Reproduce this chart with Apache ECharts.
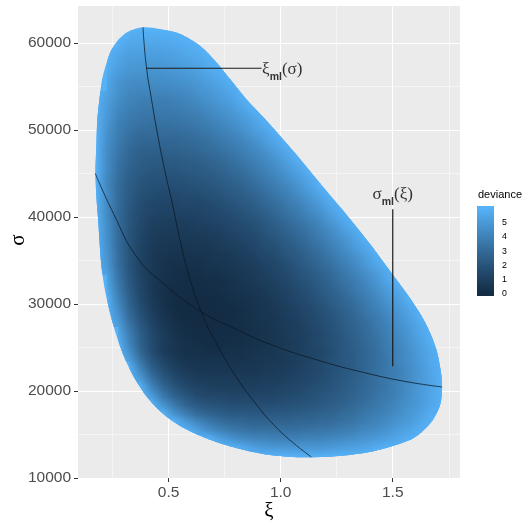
<!DOCTYPE html>
<html>
<head>
<meta charset="utf-8">
<script src="https://cdn.jsdelivr.net/npm/echarts@6/dist/echarts.min.js"></script>
<style>
html, body { margin: 0; padding: 0; background: #ffffff; }
#chart { width: 524px; height: 522px; }
</style>
</head>
<body>
<div id="chart"></div>
<script>
// Deviance surface over (xi, sigma): one row per sigma level, cells every 0.05 in xi
const XI_STEP = 0.05;
const SIGMA_STEP = 1000;
const XI_ORIGIN = 0.175;

const sigmaRows = [61500, 60500, 59500, 58500, 57500, 56500, 55500, 54500, 53500, 52500,
  51500, 50500, 49500, 48500, 47500, 46500, 45500, 44500, 43500, 42500,
  41500, 40500, 39500, 38500, 37500, 36500, 35500, 34500, 33500, 32500,
  31500, 30500, 29500, 28500, 27500, 26500, 25500, 24500, 23500, 22500,
  21500, 20500, 19500, 18500, 17500, 16500, 15500, 14500, 13500, 12500];

const rowStartXi = [0.325, 0.275, 0.225, 0.225, 0.225, 0.225, 0.225, 0.175, 0.175, 0.175,
  0.175, 0.175, 0.175, 0.175, 0.175, 0.175, 0.175, 0.175, 0.175, 0.175,
  0.175, 0.175, 0.175, 0.175, 0.175, 0.175, 0.175, 0.175, 0.225, 0.225,
  0.225, 0.225, 0.225, 0.225, 0.275, 0.275, 0.275, 0.275, 0.325, 0.325,
  0.325, 0.375, 0.375, 0.425, 0.475, 0.475, 0.575, 0.625, 0.725, 0.875];

const devRows = [
  [6.0, 5.9, 5.9, 6.0, 6.0, 6.0],
  [6.0, 5.7, 5.7, 5.7, 5.7, 5.8, 6.0, 6.0],
  [6.0, 5.8, 5.5, 5.4, 5.4, 5.5, 5.6, 5.7, 5.9, 6.0],
  [6.0, 5.5, 5.2, 5.2, 5.2, 5.2, 5.3, 5.5, 5.7, 5.9, 6.0],
  [5.9, 5.3, 5.0, 4.9, 4.9, 5.0, 5.1, 5.2, 5.4, 5.7, 6.0],
  [5.7, 5.1, 4.8, 4.7, 4.7, 4.7, 4.8, 5.0, 5.2, 5.5, 5.8, 6.0],
  [5.5, 4.8, 4.5, 4.4, 4.4, 4.5, 4.6, 4.7, 4.9, 5.2, 5.5, 5.9, 6.0],
  [6.0, 5.4, 4.7, 4.3, 4.2, 4.2, 4.2, 4.3, 4.4, 4.7, 4.9, 5.2, 5.6, 6.0],
  [6.0, 5.2, 4.5, 4.1, 3.9, 3.9, 3.9, 4.0, 4.2, 4.4, 4.7, 5.0, 5.3, 5.8, 6.0],
  [6.0, 5.1, 4.3, 3.9, 3.7, 3.7, 3.7, 3.8, 3.9, 4.1, 4.4, 4.7, 5.0, 5.4, 5.9, 6.0],
  [6.0, 5.0, 4.1, 3.7, 3.5, 3.4, 3.5, 3.5, 3.7, 3.8, 4.1, 4.4, 4.7, 5.1, 5.5, 6.0],
  [6.0, 4.8, 3.9, 3.5, 3.3, 3.2, 3.2, 3.3, 3.4, 3.6, 3.8, 4.1, 4.4, 4.8, 5.2, 5.7, 6.0],
  [6.0, 4.7, 3.8, 3.3, 3.0, 3.0, 3.0, 3.0, 3.1, 3.3, 3.5, 3.8, 4.1, 4.4, 4.9, 5.3, 5.8, 6.0],
  [6.0, 4.6, 3.7, 3.1, 2.8, 2.8, 2.8, 2.8, 2.9, 3.0, 3.2, 3.5, 3.8, 4.1, 4.5, 5.0, 5.5, 6.0],
  [6.0, 4.5, 3.5, 2.9, 2.6, 2.5, 2.5, 2.6, 2.7, 2.8, 3.0, 3.2, 3.5, 3.8, 4.2, 4.6, 5.1, 5.6, 6.0],
  [6.0, 4.4, 3.4, 2.8, 2.4, 2.3, 2.3, 2.3, 2.4, 2.5, 2.7, 2.9, 3.2, 3.5, 3.9, 4.3, 4.7, 5.3, 5.8, 6.0],
  [6.0, 4.4, 3.3, 2.6, 2.3, 2.1, 2.1, 2.1, 2.2, 2.3, 2.5, 2.7, 2.9, 3.2, 3.6, 4.0, 4.4, 4.9, 5.4, 6.0],
  [6.0, 4.3, 3.2, 2.5, 2.1, 1.9, 1.9, 1.9, 2.0, 2.1, 2.2, 2.4, 2.7, 2.9, 3.3, 3.7, 4.1, 4.6, 5.1, 5.6, 6.0],
  [6.0, 4.3, 3.1, 2.4, 2.0, 1.8, 1.7, 1.7, 1.8, 1.9, 2.0, 2.2, 2.4, 2.7, 3.0, 3.4, 3.8, 4.2, 4.7, 5.3, 5.9, 6.0],
  [6.0, 4.4, 3.1, 2.3, 1.8, 1.6, 1.5, 1.5, 1.6, 1.6, 1.8, 1.9, 2.2, 2.4, 2.7, 3.1, 3.5, 3.9, 4.4, 4.9, 5.5, 6.0],
  [6.0, 4.4, 3.1, 2.2, 1.7, 1.4, 1.3, 1.3, 1.4, 1.4, 1.5, 1.7, 1.9, 2.2, 2.4, 2.8, 3.1, 3.6, 4.0, 4.5, 5.1, 5.7, 6.0],
  [6.0, 4.4, 3.0, 2.1, 1.6, 1.3, 1.2, 1.2, 1.2, 1.2, 1.4, 1.5, 1.7, 1.9, 2.2, 2.5, 2.9, 3.3, 3.7, 4.2, 4.7, 5.3, 5.9, 6.0],
  [6.0, 4.5, 3.0, 2.1, 1.5, 1.1, 1.0, 1.0, 1.0, 1.1, 1.2, 1.3, 1.5, 1.7, 1.9, 2.2, 2.6, 3.0, 3.4, 3.8, 4.3, 4.9, 5.5, 6.0],
  [6.0, 4.6, 3.1, 2.0, 1.4, 1.0, 0.9, 0.8, 0.8, 0.9, 1.0, 1.1, 1.3, 1.5, 1.7, 2.0, 2.3, 2.7, 3.1, 3.5, 4.0, 4.5, 5.1, 5.7, 6.0],
  [6.0, 4.6, 3.1, 2.0, 1.3, 0.9, 0.7, 0.7, 0.7, 0.7, 0.8, 0.9, 1.1, 1.3, 1.5, 1.8, 2.1, 2.4, 2.8, 3.2, 3.7, 4.2, 4.7, 5.3, 5.9],
  [6.0, 4.7, 3.1, 2.0, 1.2, 0.8, 0.6, 0.5, 0.5, 0.6, 0.6, 0.8, 0.9, 1.1, 1.3, 1.6, 1.8, 2.2, 2.5, 3.0, 3.4, 3.9, 4.4, 5.0, 5.6, 6.0],
  [6.0, 4.8, 3.2, 2.0, 1.2, 0.7, 0.5, 0.4, 0.4, 0.4, 0.5, 0.6, 0.7, 0.9, 1.1, 1.4, 1.6, 2.0, 2.3, 2.7, 3.1, 3.6, 4.1, 4.6, 5.2, 5.8, 6.0],
  [6.0, 4.9, 3.2, 2.0, 1.2, 0.7, 0.4, 0.3, 0.3, 0.3, 0.4, 0.5, 0.6, 0.8, 0.9, 1.2, 1.4, 1.7, 2.1, 2.5, 2.9, 3.3, 3.8, 4.3, 4.9, 5.5, 6.0],
  [5.2, 3.4, 2.1, 1.2, 0.7, 0.4, 0.2, 0.2, 0.2, 0.3, 0.3, 0.5, 0.6, 0.8, 1.0, 1.3, 1.5, 1.9, 2.2, 2.6, 3.0, 3.5, 4.0, 4.5, 5.1, 5.7, 6.0],
  [5.4, 3.6, 2.2, 1.3, 0.7, 0.3, 0.2, 0.1, 0.1, 0.2, 0.2, 0.3, 0.5, 0.7, 0.9, 1.1, 1.4, 1.7, 2.0, 2.4, 2.8, 3.3, 3.7, 4.2, 4.8, 5.4, 6.0],
  [5.7, 3.8, 2.4, 1.4, 0.7, 0.3, 0.1, 0.1, 0.1, 0.1, 0.2, 0.3, 0.4, 0.5, 0.7, 1.0, 1.2, 1.5, 1.8, 2.2, 2.6, 3.0, 3.5, 4.0, 4.5, 5.1, 5.6, 6.0],
  [6.0, 4.1, 2.6, 1.5, 0.8, 0.3, 0.1, 0.0, 0.0, 0.0, 0.1, 0.2, 0.3, 0.4, 0.6, 0.8, 1.1, 1.4, 1.7, 2.0, 2.4, 2.8, 3.2, 3.7, 4.2, 4.8, 5.3, 5.9],
  [6.0, 4.4, 2.8, 1.7, 0.9, 0.4, 0.1, 0.0, 0.0, 0.0, 0.1, 0.1, 0.2, 0.4, 0.5, 0.7, 1.0, 1.2, 1.5, 1.8, 2.2, 2.6, 3.0, 3.5, 4.0, 4.5, 5.0, 5.6, 6.0],
  [6.0, 4.8, 3.1, 1.9, 1.1, 0.5, 0.2, 0.0, 0.0, 0.0, 0.0, 0.1, 0.2, 0.3, 0.5, 0.6, 0.9, 1.1, 1.4, 1.7, 2.0, 2.4, 2.8, 3.3, 3.7, 4.2, 4.8, 5.3, 5.9],
  [5.2, 3.5, 2.2, 1.3, 0.7, 0.3, 0.1, 0.0, 0.0, 0.1, 0.1, 0.2, 0.3, 0.4, 0.6, 0.8, 1.0, 1.3, 1.6, 1.9, 2.3, 2.7, 3.1, 3.6, 4.0, 4.6, 5.1, 5.7, 6.0],
  [5.6, 3.9, 2.5, 1.5, 0.9, 0.4, 0.2, 0.1, 0.1, 0.1, 0.1, 0.2, 0.3, 0.4, 0.6, 0.8, 1.0, 1.2, 1.5, 1.8, 2.2, 2.6, 3.0, 3.4, 3.9, 4.4, 4.9, 5.5, 6.0],
  [6.0, 4.1, 2.6, 1.6, 0.9, 0.5, 0.3, 0.2, 0.1, 0.1, 0.2, 0.2, 0.3, 0.4, 0.6, 0.7, 0.9, 1.2, 1.5, 1.8, 2.1, 2.5, 2.9, 3.3, 3.8, 4.2, 4.8, 5.3, 5.9],
  [6.0, 4.6, 2.8, 1.7, 0.9, 0.5, 0.3, 0.3, 0.2, 0.2, 0.3, 0.3, 0.4, 0.5, 0.6, 0.8, 1.0, 1.2, 1.4, 1.7, 2.1, 2.4, 2.8, 3.2, 3.7, 4.1, 4.6, 5.2, 5.7, 6.0],
  [5.2, 3.4, 2.1, 1.3, 0.8, 0.5, 0.4, 0.4, 0.4, 0.4, 0.4, 0.5, 0.6, 0.7, 0.8, 1.0, 1.2, 1.5, 1.8, 2.1, 2.4, 2.8, 3.2, 3.6, 4.1, 4.6, 5.1, 5.7, 6.0],
  [6.0, 4.1, 2.6, 1.7, 1.1, 0.8, 0.6, 0.6, 0.6, 0.6, 0.6, 0.6, 0.7, 0.8, 0.9, 1.1, 1.3, 1.5, 1.8, 2.1, 2.4, 2.8, 3.2, 3.6, 4.0, 4.5, 5.0, 5.6, 6.0],
  [6.0, 4.9, 3.3, 2.2, 1.5, 1.1, 0.9, 0.8, 0.8, 0.8, 0.8, 0.8, 0.9, 0.9, 1.1, 1.2, 1.4, 1.6, 1.9, 2.2, 2.5, 2.8, 3.2, 3.6, 4.0, 4.5, 5.0, 5.5, 6.0],
  [5.9, 4.1, 2.8, 2.0, 1.5, 1.2, 1.1, 1.0, 1.0, 1.0, 1.0, 1.1, 1.1, 1.3, 1.4, 1.6, 1.8, 2.0, 2.3, 2.6, 2.9, 3.2, 3.6, 4.1, 4.5, 5.0, 5.5, 6.0],
  [6.0, 5.0, 3.6, 2.6, 2.0, 1.6, 1.4, 1.4, 1.3, 1.3, 1.3, 1.3, 1.4, 1.5, 1.6, 1.8, 2.0, 2.2, 2.4, 2.7, 3.0, 3.4, 3.7, 4.1, 4.6, 5.1, 5.6, 6.0],
  [6.0, 4.6, 3.5, 2.7, 2.2, 1.9, 1.8, 1.7, 1.7, 1.7, 1.7, 1.7, 1.8, 1.9, 2.0, 2.2, 2.4, 2.6, 2.9, 3.2, 3.5, 3.9, 4.3, 4.7, 5.1, 5.6, 6.0],
  [5.9, 4.6, 3.7, 3.0, 2.6, 2.4, 2.2, 2.2, 2.1, 2.1, 2.2, 2.2, 2.3, 2.4, 2.6, 2.7, 3.0, 3.2, 3.5, 3.8, 4.1, 4.5, 4.9, 5.3, 5.8, 6.0],
  [6.0, 6.0, 5.0, 4.2, 3.6, 3.2, 2.9, 2.8, 2.7, 2.7, 2.7, 2.7, 2.8, 2.8, 3.0, 3.1, 3.3, 3.5, 3.8, 4.1, 4.4, 4.8, 5.1, 5.6, 6.0],
  [6.0, 5.3, 4.6, 4.1, 3.7, 3.5, 3.3, 3.3, 3.3, 3.3, 3.3, 3.4, 3.5, 3.6, 3.8, 4.0, 4.3, 4.5, 4.8, 5.2, 5.5, 5.9, 6.0],
  [6.0, 6.0, 5.3, 4.8, 4.4, 4.2, 4.1, 4.0, 4.0, 4.0, 4.1, 4.1, 4.3, 4.4, 4.6, 4.8, 5.0, 5.3, 5.6, 5.9, 6.0],
  [6.0, 6.0, 5.7, 5.3, 5.1, 4.9, 4.9, 4.9, 4.9, 4.9, 5.0, 5.2, 5.3, 5.5, 5.8, 6.0, 6.0],
  [6.0, 6.0, 6.0, 6.0, 5.9, 5.9, 5.9, 6.0, 6.0, 6.0, 6.0]
];

// Outline of the region where the deviance is below its cut-off
const boundaryXi = [0.386, 0.462, 0.551, 0.641, 0.712, 0.774, 0.850, 0.926, 1.064, 1.189,
  1.314, 1.403, 1.492, 1.568, 1.644, 1.693, 1.715, 1.720, 1.711, 1.671,
  1.599, 1.510, 1.390, 1.243, 1.091, 0.944, 0.810, 0.691, 0.572, 0.483,
  0.409, 0.349, 0.305, 0.267, 0.238, 0.215, 0.200, 0.193, 0.186, 0.178,
  0.173, 0.178, 0.182, 0.193, 0.203, 0.223, 0.245, 0.275, 0.319];
const boundarySigma = [61805, 61609, 61034, 59655, 57814, 55859, 53443, 51373, 47347, 43436,
  39641, 36765, 33660, 31014, 27909, 24918, 22158, 20317, 18362, 16407,
  14681, 13761, 12956, 12496, 12381, 12668, 13382, 14336, 15682, 17212,
  19132, 21433, 23733, 26413, 29093, 31785, 34465, 36770, 39650, 42320,
  45390, 48071, 51142, 53822, 55740, 57665, 59195, 60345, 61299];

// Profile curves: xi maximising the likelihood for each sigma, and vice versa
const xiMlSigma = [61805, 57500, 53500, 49500, 45500, 41500, 37500, 33500, 29093, 25500, 21500, 18500, 16500, 14500, 12415];
const xiMlXi = [0.386, 0.400, 0.424, 0.451, 0.482, 0.517, 0.550, 0.588, 0.646, 0.713, 0.805, 0.890, 0.955, 1.035, 1.137];
const sigmaMlXi = [0.173, 0.254, 0.358, 0.477, 0.646, 0.795, 0.944, 1.167, 1.390, 1.568, 1.720];
const sigmaMlSigma = [45013, 40411, 35420, 32360, 29093, 27184, 25459, 23538, 22008, 21042, 20467];

// Annotation pointers and their labels
const xiLabelSegXi = [0.40, 0.915];
const xiLabelSegSigma = [57100, 57100];
const sigmaLabelSegXi = [1.5, 1.5];
const sigmaLabelSegSigma = [22850, 40900];
const xiLabelPos = [0.917, 57000];
const sigmaLabelPos = [1.5, 42630];

// Axes and colour scale
const xRange = [0.096, 1.80];
const yRange = [10000, 64255];
const xTicks = [0.5, 1.0, 1.5];
const xMinorTicks = [0.25, 0.75, 1.25, 1.75];
const yTicks = [10000, 20000, 30000, 40000, 50000, 60000];
const yMinorTicks = [15000, 25000, 35000, 45000, 55000];
const devRange = [0, 6];
const devColors = ['#132B43', '#22496C', '#336A98', '#448DC7', '#56B1F7'];
const legendTicks = [0, 1, 2, 3, 4, 5];
const legendAxisRange = [-0.177, 6.188];
const axisTitles = { x: 'ξ', y: 'σ', legend: 'deviance' };

// Flatten the rows into [xi, sigma, deviance] cells and remember each cell's grid position
const cells = [];
const cellPos = [];
const cellLookup = new Map();
sigmaRows.forEach(function (s, r) {
  devRows[r].forEach(function (d, j) {
    const xi = +(rowStartXi[r] + j * XI_STEP).toFixed(3);
    const col = Math.round((xi - XI_ORIGIN) / XI_STEP);
    cellLookup.set(r * 1000 + col, cells.length);
    cellPos.push([r, col]);
    cells.push([xi, s, d]);
  });
});
function cellAt(r, col) {
  const k = cellLookup.get(r * 1000 + col);
  return k === undefined ? -1 : k;
}
const boundary = boundaryXi.map(function (x, i) { return [x, boundarySigma[i]]; });
const pairs = function (xs, ys) { return xs.map(function (x, i) { return [x, ys[i]]; }); };

const TEXT_FONT = 'Liberation Sans';
const GREEK_FONT = 'Liberation Serif';
const STRIPS = 5;
const EDGE_COLOR = devColors[devColors.length - 1];

function regionPoints(params, api) {
  const ctx = params.context;
  if (!ctx.regionPts) {
    ctx.regionPts = boundary.map(function (p) { return api.coord(p); });
  }
  return ctx.regionPts.slice();
}

// The cut-off contour, filled with the colour of the limiting deviance
function renderRegion(params, api) {
  return {
    type: 'polygon',
    silent: true,
    shape: { points: regionPoints(params, api), smooth: 0.3 },
    style: { fill: api.visual('color') }
  };
}

// Shaded patch between a cell and its right, lower and lower-right neighbours.
// Each strip runs one pixel past its right and bottom edges; the next patch
// or strip is painted over that margin, so no seams are left between them.
function renderShade(params, api) {
  const idx = params.dataIndex;
  const r = cellPos[idx][0], col = cellPos[idx][1];
  const iR = cellAt(r, col + 1), iD = cellAt(r + 1, col), iDR = cellAt(r + 1, col + 1);
  const xi = api.value(0), s = api.value(1);
  const p0 = api.coord([xi, s]);
  const p1 = api.coord([xi + XI_STEP, s - SIGMA_STEP]);
  const colorOf = function (i) { return i < 0 ? EDGE_COLOR : api.visual('color', i); };
  const cTL = api.visual('color'), cTR = colorOf(iR);
  const cBL = colorOf(iD), cBR = colorOf(iDR);
  const w = p1[0] - p0[0];
  const children = [];
  for (let k = 0; k < STRIPS; k++) {
    const t = (k + 0.5) / STRIPS;
    const cl = echarts.color.lerp(t, [cTL, cBL]);
    const cr = echarts.color.lerp(t, [cTR, cBR]);
    const y0 = p0[1] + (p1[1] - p0[1]) * k / STRIPS;
    const y1 = p0[1] + (p1[1] - p0[1]) * (k + 1) / STRIPS;
    children.push({
      type: 'rect',
      silent: true,
      shape: { x: p0[0], y: y0, width: w + 1.2, height: y1 - y0 + 1.2 },
      style: { fill: new echarts.graphic.LinearGradient(p0[0], 0, p1[0], 0,
        [{ offset: 0, color: cl }, { offset: 1, color: cr }], true) }
    });
  }
  return {
    type: 'group',
    children: children,
    clipPath: { type: 'polygon', shape: { points: regionPoints(params, api), smooth: 0.3 } }
  };
}

function renderColorbar(params, api) {
  const cs = params.coordSys;
  const lo = api.coord([0, devRange[0]]);
  const hi = api.coord([0, devRange[1]]);
  const stops = devColors.map(function (c, i) { return { offset: i / (devColors.length - 1), color: c }; });
  return {
    type: 'rect',
    silent: true,
    shape: { x: cs.x, y: cs.y, width: cs.width, height: cs.height },
    style: { fill: new echarts.graphic.LinearGradient(0, lo[1], 0, hi[1], stops, true) }
  };
}

const labelRich = {
  g: { fontFamily: GREEK_FONT, fontSize: 17, color: '#000000', lineHeight: 20 },
  s: { fontFamily: TEXT_FONT, fontSize: 10.5, fontWeight: 'bold', color: '#000000', verticalAlign: 'bottom', lineHeight: 20, padding: [0, 0, -3, 0] }
};

const chart = echarts.init(document.getElementById('chart'), null, { renderer: 'canvas' });

chart.setOption({
  animation: false,
  backgroundColor: '#ffffff',
  textStyle: { fontFamily: TEXT_FONT },
  grid: [
    { left: 78, top: 6, width: 382, height: 472, show: true, backgroundColor: '#EBEBEB', borderWidth: 0,
      containLabel: false, outerBoundsMode: 'none' },
    { left: 477, top: 206, width: 17, height: 90, show: false, containLabel: false, outerBoundsMode: 'none' }
  ],
  xAxis: [
    {
      type: 'value', gridIndex: 0, min: xRange[0], max: xRange[1], position: 'bottom',
      axisLine: { show: false },
      axisTick: { show: true, length: 4, lineStyle: { color: '#333333', width: 1 }, customValues: xTicks },
      axisLabel: { show: true, customValues: xTicks, margin: 7, fontSize: 15.5, color: '#4D4D4D',
        formatter: function (v) { return v.toFixed(1); } },
      splitLine: { show: true, lineStyle: { color: '#ffffff', width: 1 } }
    },
    {
      type: 'value', gridIndex: 0, min: xRange[0], max: xRange[1], position: 'top',
      axisLine: { show: false },
      axisTick: { show: false, customValues: xMinorTicks },
      axisLabel: { show: false, customValues: xMinorTicks },
      splitLine: { show: true, lineStyle: { color: '#ffffff', width: 0.5 } }
    },
    { type: 'value', gridIndex: 1, min: 0, max: 1, show: false }
  ],
  yAxis: [
    {
      type: 'value', gridIndex: 0, min: yRange[0], max: yRange[1], position: 'left',
      axisLine: { show: false },
      axisTick: { show: true, length: 4, lineStyle: { color: '#333333', width: 1 }, customValues: yTicks },
      axisLabel: { show: true, customValues: yTicks, margin: 7, fontSize: 15.5, color: '#4D4D4D',
        formatter: function (v) { return String(v); } },
      splitLine: { show: true, lineStyle: { color: '#ffffff', width: 1 } }
    },
    {
      type: 'value', gridIndex: 0, min: yRange[0], max: yRange[1], position: 'right',
      axisLine: { show: false },
      axisTick: { show: false, customValues: yMinorTicks },
      axisLabel: { show: false, customValues: yMinorTicks },
      splitLine: { show: true, lineStyle: { color: '#ffffff', width: 0.5 } }
    },
    {
      type: 'value', gridIndex: 1, min: legendAxisRange[0], max: legendAxisRange[1], position: 'right',
      axisLine: { show: false },
      axisTick: { show: true, inside: true, length: 3.4, lineStyle: { color: '#ffffff', width: 1 }, customValues: legendTicks },
      axisLabel: { show: true, customValues: legendTicks, margin: 8, fontSize: 8.8, color: '#000000' },
      splitLine: { show: false }
    },
    {
      type: 'value', gridIndex: 1, min: legendAxisRange[0], max: legendAxisRange[1], position: 'left',
      axisLine: { show: false },
      axisTick: { show: true, inside: true, length: 3.4, lineStyle: { color: '#ffffff', width: 1 }, customValues: legendTicks },
      axisLabel: { show: false, customValues: legendTicks },
      splitLine: { show: false }
    }
  ],
  visualMap: {
    type: 'continuous', show: false, seriesIndex: [0, 1], dimension: 2,
    min: devRange[0], max: devRange[1],
    inRange: { color: devColors }
  },
  graphic: [
    { type: 'text', x: 269, y: 511, silent: true,
      style: { text: axisTitles.x, fontFamily: GREEK_FONT, fontSize: 21, fill: '#000000', align: 'center', verticalAlign: 'middle' } },
    { type: 'text', x: 18, y: 240, rotation: Math.PI / 2, silent: true,
      style: { text: axisTitles.y, fontFamily: GREEK_FONT, fontSize: 21, fill: '#000000', align: 'center', verticalAlign: 'middle' } },
    { type: 'text', left: 478, top: 189, silent: true,
      style: { text: axisTitles.legend, fontFamily: TEXT_FONT, fontSize: 11, fill: '#000000' } }
  ],
  series: [
    {
      name: 'deviance limit', type: 'custom', xAxisIndex: 0, yAxisIndex: 0, z: 2,
      renderItem: renderRegion, data: [[boundaryXi[0], boundarySigma[0], devRange[1]]],
      encode: { x: 0, y: 1 }
    },
    {
      name: 'deviance', type: 'custom', xAxisIndex: 0, yAxisIndex: 0, z: 3,
      renderItem: renderShade, data: cells, progressive: 0,
      encode: { x: 0, y: 1 }
    },
    {
      name: 'xi_ml', type: 'line', xAxisIndex: 0, yAxisIndex: 0, z: 4, silent: true,
      data: pairs(xiMlXi, xiMlSigma), symbol: 'none', smooth: 0.5,
      lineStyle: { color: '#0c1824', width: 0.9, opacity: 0.85 }
    },
    {
      name: 'sigma_ml', type: 'line', xAxisIndex: 0, yAxisIndex: 0, z: 4, silent: true,
      data: pairs(sigmaMlXi, sigmaMlSigma), symbol: 'none', smooth: 0.5,
      lineStyle: { color: '#0c1824', width: 0.9, opacity: 0.85 }
    },
    {
      name: 'xi label pointer', type: 'line', xAxisIndex: 0, yAxisIndex: 0, z: 5, silent: true,
      data: pairs(xiLabelSegXi, xiLabelSegSigma), symbol: 'none',
      lineStyle: { color: '#1a1a1a', width: 1.2 }
    },
    {
      name: 'sigma label pointer', type: 'line', xAxisIndex: 0, yAxisIndex: 0, z: 5, silent: true,
      data: pairs(sigmaLabelSegXi, sigmaLabelSegSigma), symbol: 'none',
      lineStyle: { color: '#1a1a1a', width: 1.2 }
    },
    {
      name: 'labels', type: 'scatter', xAxisIndex: 0, yAxisIndex: 0, z: 6, silent: true,
      symbolSize: 0,
      data: [
        { value: xiLabelPos, label: { show: true, position: 'right', distance: 0,
          formatter: '{g|ξ}{s|ml}{g|(σ)}', rich: labelRich } },
        { value: sigmaLabelPos, label: { show: true, position: 'inside',
          formatter: '{g|σ}{s|ml}{g|(ξ)}', rich: labelRich } }
      ]
    },
    {
      name: 'colourbar', type: 'custom', xAxisIndex: 2, yAxisIndex: 2, z: 2,
      renderItem: renderColorbar, data: [[0.5, devRange[1]]]
    }
  ]
});
</script>
</body>
</html>
